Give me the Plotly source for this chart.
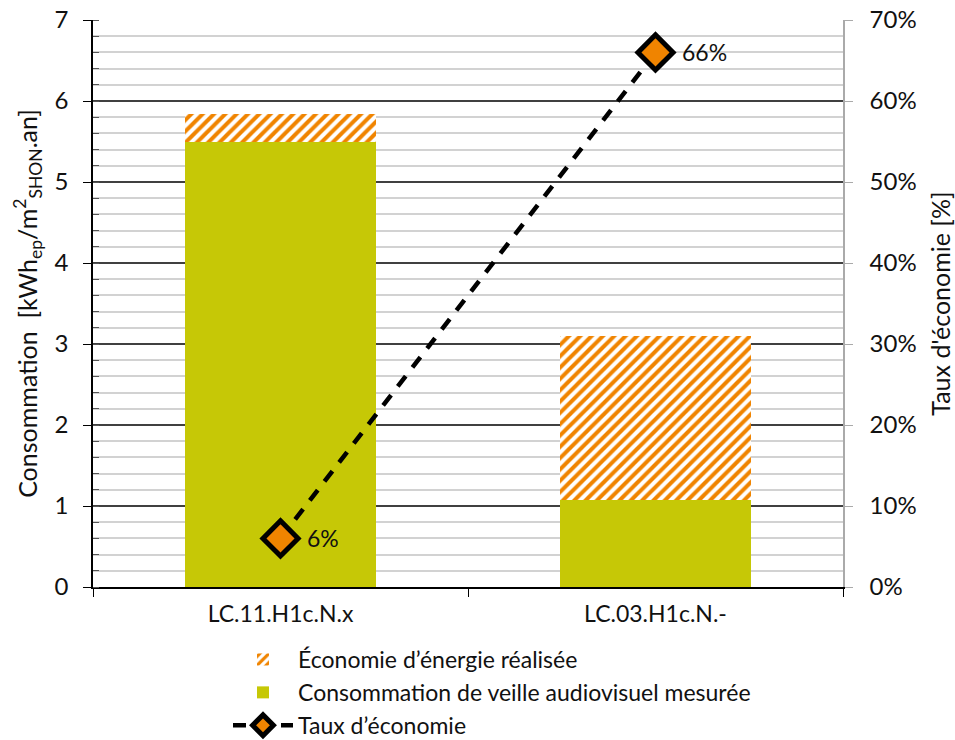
import plotly.graph_objects as go

categories = ["LC.11.H1c.N.x", "LC.03.H1c.N.-"]
conso_mesuree = [5.50, 1.07]
economie = [0.34, 2.03]
taux = [0.06, 0.66]
taux_labels = ["6%", "66%"]
right_ticks = [0, 0.1, 0.2, 0.3, 0.4, 0.5, 0.6, 0.7]

GREEN = "#c6c806"
ORANGE = "#f08400"
FONT = "Lato"

fig = go.Figure()
fig.add_trace(go.Bar(
    x=categories, y=conso_mesuree, name="Consommation de veille audiovisuel mesurée",
    marker=dict(color=GREEN, line=dict(width=0)), width=0.507, legendrank=2,
))
fig.add_trace(go.Bar(
    x=categories, y=economie, name="Économie d’énergie réalisée",
    marker=dict(color="white", line=dict(width=0),
                pattern=dict(shape="/", fgcolor=ORANGE, bgcolor="white", fgopacity=1,
                             size=8, solidity=0.5)),
    width=0.507, legendrank=1,
))
fig.add_trace(go.Scatter(
    x=categories, y=taux, yaxis="y2", name="Taux d’économie", mode="lines+markers",
    line=dict(color="black", width=4.5, dash="13px,11px"),
    marker=dict(symbol="diamond", size=27, color=ORANGE, line=dict(color="black", width=5)),
    legendrank=3, cliponaxis=False,
))

annotations = [
    dict(x=c, y=v, xref="x", yref="y2", text=t, showarrow=False, xanchor="left",
         xshift=24, font=dict(size=23, color="#111", family=FONT))
    for c, v, t in zip(categories, taux, taux_labels)
]

fig.update_layout(
    width=955, height=740,
    margin=dict(l=93, r=112, t=20, b=153, autoexpand=False),
    paper_bgcolor="white", plot_bgcolor="white",
    font=dict(family=FONT, size=23, color="#111"),
    barmode="stack", bargap=0,
    showlegend=True,
    annotations=annotations,
    legend=dict(orientation="v", traceorder="normal", x=0.18, xanchor="left", y=-0.09, yanchor="top",
                font=dict(size=23, family=FONT), itemwidth=60, tracegroupgap=0,
                bgcolor="rgba(0,0,0,0)"),
    xaxis=dict(
        type="category", range=[-0.5, 1.5], showline=True, linecolor="black", linewidth=1.5,
        ticks="outside", ticklen=8, tickcolor="black", tickson="boundaries",
        showgrid=False, tickfont=dict(size=23), ticklabelstandoff=6,
    ),
    yaxis=dict(
        range=[0, 7], dtick=1, showline=True, linecolor="black", linewidth=1.5,
        ticks="outside", ticklen=8, tickcolor="black", ticklabelstandoff=10,
        showgrid=True, gridcolor="#404040", gridwidth=1.6, zeroline=False,
        minor=dict(dtick=0.2, showgrid=True, gridcolor="#d2d2d2", gridwidth=1.5,
                   ticks="inside", ticklen=6, tickcolor="#555"),
        title=dict(text="Consommation  [kWh<sub>ep</sub>/m<sup>2</sup><sub>SHON</sub>.an]",
                   font=dict(size=25), standoff=10),
        tickfont=dict(size=24),
    ),
    yaxis2=dict(
        overlaying="y", side="right", range=[0, 0.7], tickvals=right_ticks, tickformat=".0%",
        showline=True, linecolor="#aaa", linewidth=1.5, ticks="outside", ticklen=8, tickcolor="#aaa",
        ticklabelstandoff=12,
        showgrid=False, zeroline=False,
        title=dict(text="Taux d'économie [%]", font=dict(size=25), standoff=18),
        tickfont=dict(size=24),
    ),
)

fig.write_html("out.html")
